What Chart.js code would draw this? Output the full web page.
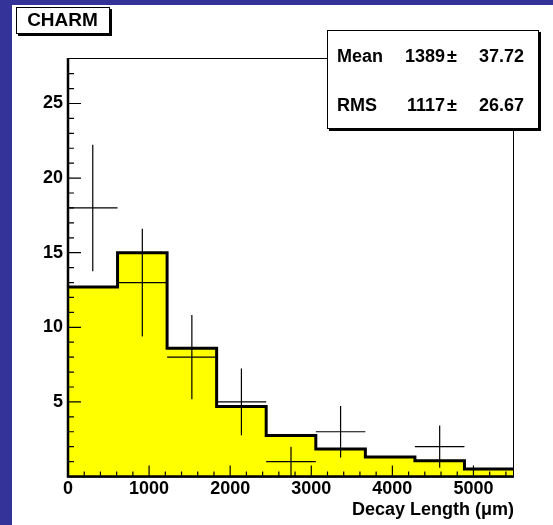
<!DOCTYPE html>
<html>
<head>
<meta charset="utf-8">
<script src="https://cdn.jsdelivr.net/npm/chart.js@4.4.1/dist/chart.umd.min.js"></script>
<style>
  html, body { margin: 0; padding: 0; background: #fff; }
  canvas { display: block; }
</style>
</head>
<body>
<canvas id="c" width="553" height="525"></canvas>
<script>
// histogram binning and contents
const binEdges = [0, 611, 1222, 1833, 2444, 3056, 3667, 4278, 4889, 5500];
const mcValues = [12.7, 15.0, 8.6, 4.7, 2.75, 1.85, 1.3, 1.05, 0.5];
const dataCounts = [18, 13, 8, 5, 1, 3, 0, 2, 0];
const dataErrors = [4.24, 3.61, 2.83, 2.24, 1.0, 1.73, 0, 1.41, 0];

const xTickLabels = [0, 1000, 2000, 3000, 4000, 5000];
const yTickLabels = [5, 10, 15, 20, 25];

const statNames = ["Mean", "RMS"];
const statValues = ["1389", "1117"];
const statErrors = ["37.72", "26.67"];

const FONT = "'Liberation Sans', Arial, Helvetica, sans-serif";

const histPoints = binEdges.map((e, i) => ({ x: e, y: mcValues[Math.min(i, mcValues.length - 1)] }));

const dataPoints = [];
dataCounts.forEach((n, i) => {
  if (n <= 0) return;
  dataPoints.push({
    x: (binEdges[i] + binEdges[i + 1]) / 2,
    y: n,
    xerr: (binEdges[i + 1] - binEdges[i]) / 2,
    yerr: dataErrors[i]
  });
});

const background = {
  id: "background",
  beforeDraw(chart) {
    const ctx = chart.ctx;
    ctx.save();
    ctx.fillStyle = "#333399";
    ctx.fillRect(0, 0, chart.width, chart.height);
    ctx.fillStyle = "#ffffff";
    ctx.fillRect(12, 5, chart.width - 12, chart.height - 5);
    ctx.restore();
  }
};

function drawBox(ctx, x, y, w, h) {
  ctx.fillStyle = "#000";
  ctx.fillRect(x + 2, y + 2, w + 1, h + 1);
  ctx.fillStyle = "#fff";
  ctx.fillRect(x, y, w, h);
  ctx.strokeStyle = "#000";
  ctx.lineWidth = 1;
  ctx.strokeRect(x + 0.5, y + 0.5, w, h);
}

const rootDecor = {
  id: "rootDecor",
  afterDatasetsDraw(chart) {
    const ctx = chart.ctx;
    const xs = chart.scales.x, ys = chart.scales.y;
    const a = chart.chartArea;
    ctx.save();

    // error bars of the data points
    ctx.strokeStyle = "#000";
    ctx.lineWidth = 1.2;
    dataPoints.forEach(p => {
      const px = xs.getPixelForValue(p.x);
      const py = ys.getPixelForValue(p.y);
      ctx.beginPath();
      ctx.moveTo(xs.getPixelForValue(p.x - p.xerr), py);
      ctx.lineTo(xs.getPixelForValue(p.x + p.xerr), py);
      ctx.moveTo(px, ys.getPixelForValue(p.y + p.yerr));
      ctx.lineTo(px, ys.getPixelForValue(p.y - p.yerr));
      ctx.stroke();
    });

    // ticks inside the frame
    ctx.lineWidth = 1.2;
    ctx.beginPath();
    for (let v = 200; v < 5500; v += 200) {
      const px = xs.getPixelForValue(v);
      const len = v % 1000 === 0 ? 11 : 5;
      ctx.moveTo(px, a.bottom);
      ctx.lineTo(px, a.bottom - len);
    }
    for (let v = 1; v < 28; v += 1) {
      const py = ys.getPixelForValue(v);
      const len = v % 5 === 0 ? 13 : 6;
      ctx.moveTo(a.left, py);
      ctx.lineTo(a.left + len, py);
    }
    ctx.stroke();

    // frame
    ctx.lineWidth = 1;
    ctx.strokeRect(a.left, a.top + 0.5, a.right - a.left - 0.5, a.bottom - a.top);
    ctx.lineWidth = 2.5;
    ctx.beginPath();
    ctx.moveTo(a.left, a.top);
    ctx.lineTo(a.left, a.bottom);
    ctx.lineTo(a.right, a.bottom);
    ctx.stroke();

    // title box
    drawBox(ctx, 16, 7, 93, 26);
    ctx.fillStyle = "#000";
    ctx.font = "bold 19px " + FONT;
    ctx.textAlign = "center";
    ctx.textBaseline = "middle";
    ctx.fillText("CHARM", 62.5, 21);

    // statistics box
    drawBox(ctx, 327, 30, 211, 98);
    ctx.fillStyle = "#000";
    ctx.font = "bold 18px " + FONT;
    ctx.textBaseline = "middle";
    statNames.forEach((name, i) => {
      const y = 57 + i * 49;
      ctx.textAlign = "left";
      ctx.fillText(name, 337, y);
      ctx.textAlign = "right";
      ctx.fillText(statValues[i], 445, y);
      ctx.textAlign = "left";
      ctx.fillText("\u00b1", 447, y);
      ctx.textAlign = "right";
      ctx.fillText(statErrors[i], 524, y);
    });
    ctx.restore();
  }
};

new Chart(document.getElementById("c"), {
  type: "scatter",
  data: {
    datasets: [
      {
        type: "line",
        label: "MC",
        data: histPoints,
        stepped: "before",
        borderColor: "#000",
        borderWidth: 3,
        backgroundColor: "#ffff00",
        fill: "origin",
        pointRadius: 0
      },
      {
        label: "Data",
        data: dataPoints,
        pointRadius: 0,
        showLine: false
      }
    ]
  },
  options: {
    responsive: false,
    animation: false,
    layout: { padding: { top: 58, right: 39, left: 0, bottom: 0 } },
    plugins: { legend: { display: false }, tooltip: { enabled: false } },
    scales: {
      x: {
        type: "linear",
        min: 0,
        max: 5500,
        grid: { display: false, drawTicks: false },
        border: { display: false },
        afterBuildTicks: s => { s.ticks = xTickLabels.map(v => ({ value: v })); },
        ticks: {
          color: "#000",
          font: { family: FONT, size: 18, weight: "bold" },
          padding: 2,
          maxRotation: 0,
          autoSkip: false,
          callback: v => String(v)
        },
        title: {
          display: true,
          text: "Decay Length (\u03bcm)",
          align: "end",
          color: "#000",
          font: { family: FONT, size: 18, weight: "bold" },
          padding: { top: 0, bottom: 4 }
        },
        afterFit: s => { s.height = 48.5; }
      },
      y: {
        min: 0,
        max: 28.05,
        grid: { display: false, drawTicks: false },
        border: { display: false },
        afterBuildTicks: s => { s.ticks = yTickLabels.map(v => ({ value: v })); },
        ticks: {
          color: "#000",
          font: { family: FONT, size: 18, weight: "bold" },
          padding: 5,
          callback: v => String(v)
        },
        afterFit: s => { s.width = 68; }
      }
    }
  },
  plugins: [background, rootDecor]
});
</script>
</body>
</html>
